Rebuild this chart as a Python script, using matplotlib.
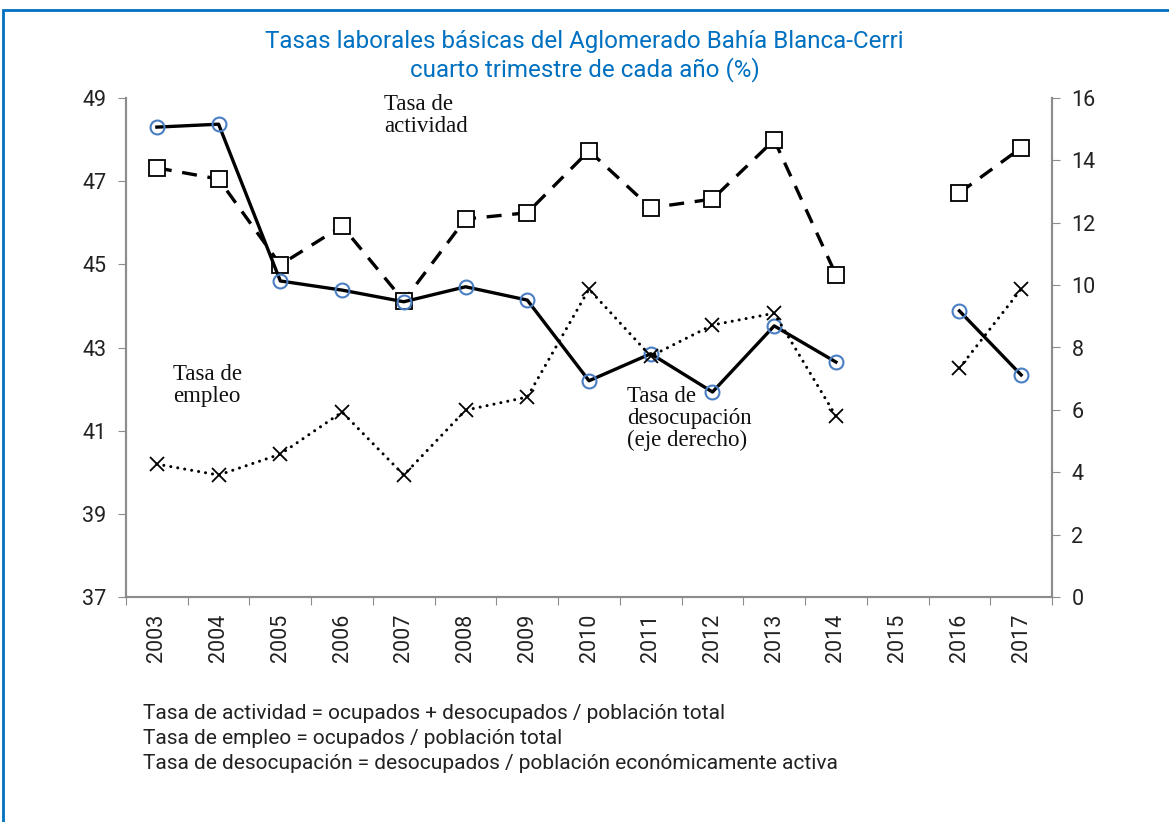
import numpy as np
import matplotlib.pyplot as plt
from matplotlib.patches import Rectangle

years = ['2003', '2004', '2005', '2006', '2007', '2008', '2009', '2010',
         '2011', '2012', '2013', '2014', '2015', '2016', '2017']
actividad = [47.32, 47.05, 44.99, 45.92, 44.12, 46.09, 46.24, 47.73,
             46.36, 46.57, 47.99, 44.75, np.nan, 46.72, 47.80]
empleo = [48.30, 48.37, 44.60, 44.38, 44.10, 44.46, 44.14, 42.20,
          42.85, 41.93, 43.52, 42.65, np.nan, 43.88, 42.34]
desocupacion = [4.26, 3.91, 4.58, 5.93, 3.91, 5.99, 6.41, 9.87,
                7.72, 8.72, 9.10, 5.80, np.nan, 7.34, 9.87]

blue = '#0070C0'
grey = '#8C8C8C'
W, H = 1169, 822

fig = plt.figure(figsize=(W / 100, H / 100), dpi=100)
fig.patches.append(Rectangle((3 / W, -0.01), 1.2, 1 - 10 / H + 0.01, transform=fig.transFigure,
                             fill=False, edgecolor=blue, linewidth=2))

ax = fig.add_axes([126 / W, 1 - 597 / H, (1052 - 126) / W, (597 - 98) / H])
ax2 = ax.twinx()
x = np.arange(len(years))

ax.plot(x, actividad, color='black', linewidth=2.4, dashes=(4.5, 3.2),
        marker='s', markersize=12, markerfacecolor='white', markeredgecolor='black',
        markeredgewidth=1.3, zorder=3)
ax.plot(x, empleo, color='black', linewidth=2.4,
        marker='o', markersize=10, markerfacecolor='none', markeredgecolor='#4A7EC2',
        markeredgewidth=1.5, zorder=4)
ax2.plot(x, desocupacion, color='black', linewidth=2.2, linestyle=(0, (0.01, 2.3)),
         dash_capstyle='round', marker='x', markersize=10, markeredgecolor='black',
         markeredgewidth=1.3)

ax.set_ylim(37, 49)
ax.set_yticks(range(37, 50, 2))
ax2.set_ylim(0, 16)
ax2.set_yticks(range(0, 17, 2))
ax.set_xlim(-0.5, len(years) - 0.5)
ax.set_xticks(np.arange(-0.5, len(years), 1))
ax.set_xticklabels([])
ax.set_xticks(x, minor=True)
ax.set_xticklabels(years, minor=True, rotation=90, fontsize=15.5, color='#222222', family='Roboto')
ax.tick_params(axis='x', which='minor', length=0, pad=12)
ax.tick_params(axis='x', which='major', length=6, color=grey, direction='out')

for a in (ax, ax2):
    a.spines['top'].set_visible(False)
    for s in ('left', 'right', 'bottom'):
        a.spines[s].set_color(grey)
        a.spines[s].set_linewidth(1.5)
    a.tick_params(axis='y', length=6, color=grey, labelsize=15.5, labelcolor='#222222', pad=8)
    for lab in a.get_yticklabels():
        lab.set_family('Roboto')

fig.suptitle('Tasas laborales básicas del Aglomerado Bahía Blanca-Cerri\ncuarto trimestre de cada año (%)',
             y=1 - 30 / H, fontsize=17.4, color=blue, family='Roboto', linespacing=1.2)

serif = dict(family='Liberation Serif', fontsize=16.5, color='#111111', va='top', linespacing=1.05)
fig.text(384 / W, 1 - 94 / H, 'Tasa de\nactividad', **serif)
fig.text(173 / W, 1 - 364 / H, 'Tasa de\nempleo', **serif)
fig.text(627 / W, 1 - 386 / H, 'Tasa de\ndesocupación\n(eje derecho)', **serif)

notas = ['Tasa de actividad = ocupados + desocupados / población total',
         'Tasa de empleo = ocupados / población total',
         'Tasa de desocupación = desocupados / población económicamente activa']
for i, t in enumerate(notas):
    fig.text(143 / W, 1 - (713 + 25 * i) / H, t, family='Roboto', fontsize=15,
             color='#222222', va='center')

fig.savefig('out.png', dpi=100)
